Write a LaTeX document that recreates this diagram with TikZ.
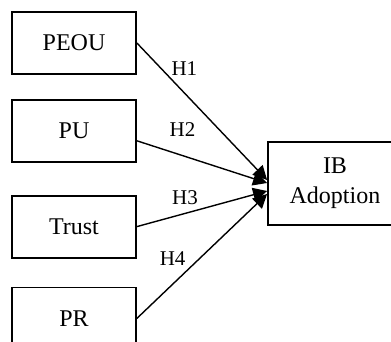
\documentclass[tikz,border=0pt]{standalone}
\usepackage{fontspec}
\setmainfont{Liberation Serif}
\usetikzlibrary{positioning, arrows.meta}

\tikzset{
  factor/.style={draw, line width=0.9pt, minimum width=62pt, minimum height=31pt,
    font=\fontsize{12}{15}\selectfont},
  hyp/.style={inner sep=0pt, font=\fontsize{10.5}{12}\selectfont},
}

\begin{document}
\begin{tikzpicture}[x=0.5pt, y=-0.5pt,
    link/.style={line width=0.7pt, -{Triangle[length=7pt,width=7pt]}}]
        \clip (0,0) rectangle (391,342);
        \node[factor]                    (peou)  at (74,43) {PEOU};
        \node[factor, below=12pt of peou] (pu)    {PU};
        \node[factor, below=16pt of pu]   (trust) {Trust};
        \node[factor, below=14pt of trust] (pr)   {PR};
        \node[factor, minimum width=67pt, minimum height=41.5pt, align=center]
            (ib) at (335,183.5) {IB\\Adoption};

        \draw[link] (peou.east) -- node[hyp, pos=0.25, above right=1pt] {H1} ([yshift=1.75pt]ib.west);
        \draw[link] ([yshift=-5pt]pu.east) -- node[hyp, pos=0.35, above=9pt] {H2} ([yshift=0.25pt]ib.west);
        \draw[link] (trust.east) -- node[hyp, pos=0.37, above=4pt] {H3} ([yshift=-3.75pt]ib.west);
        \draw[link] (pr.east) -- node[hyp, pos=0.4, above left=2pt] {H4} ([yshift=-5.25pt]ib.west);
\end{tikzpicture}
\end{document}
